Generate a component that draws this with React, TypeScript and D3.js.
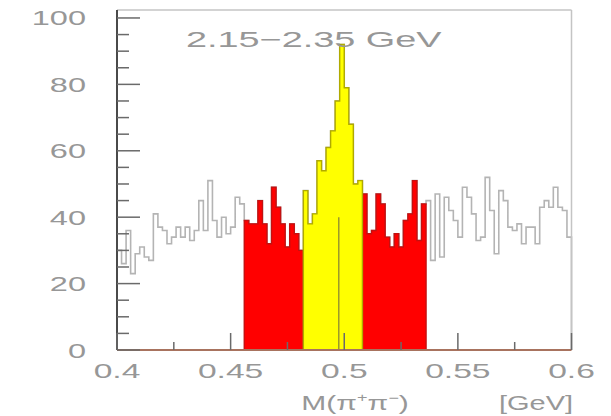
import React from 'react';
import * as d3 from 'd3';

// ---- data ----
const binLow = 0.4;
const binWidth = 0.002;
const counts = [
  30, 26, 36, 23, 29, 31, 28, 27, 41, 37,
  36, 32, 34, 37, 34, 37, 33, 36, 45, 36,
  51, 39, 34, 40, 35, 37, 46, 44, 39, 38,
  38, 45, 38, 32, 49, 43, 38, 31, 38, 35,
  30, 48, 38, 41, 57, 54, 61, 66, 75, 92,
  79, 68, 50, 51, 47, 35, 36, 47, 44, 34,
  31, 35, 31, 39, 41, 51, 33, 44, 45, 27,
  47, 28, 46, 42, 39, 34, 49, 46, 41, 33,
  34, 52, 42, 29, 48, 45, 37, 36, 38, 32,
  37, 37, 32, 43, 45, 43, 49, 43, 42, 34,
];
const leftBand = [0.456, 0.482];
const signalBand = [0.482, 0.508];
const rightBand = [0.508, 0.536];
const kMass = 0.4976;
const kLineTop = 40;
const yMajorTicks = [0, 20, 40, 60, 80, 100];
const yMinorTicks = [5, 10, 15, 25, 30, 35, 45, 50, 55, 65, 70, 75, 85, 90, 95];
const xMajorTicks = [0.4, 0.45, 0.5, 0.55, 0.6];
const xMajorLabels = ['0.4', '0.45', '0.5', '0.55', '0.6'];
const xMinorTicks = [0.425, 0.475, 0.525, 0.575];
const titleText = '2.15\u22122.35 GeV';

const TEXT = '#979797';
const FONT = 'Liberation Sans, Arial, sans-serif';

export default function App() {
  const W = 611, H = 416;
  const x = d3.scaleLinear().domain([0.4, 0.6]).range([117, 571.5]);
  const y = d3.scaleLinear().domain([0, 102.4]).range([350, 10]);

  const bins = counts.map((c, i) => ({ x0: binLow + i * binWidth, c }));
  const eps = 1e-9;

  const regionPts = (lo: number, hi: number): [number, number][] => {
    const sel = bins.filter(b => b.x0 >= lo - eps && b.x0 < hi - eps);
    const pts: [number, number][] = sel.map(b => [b.x0, b.c]);
    pts.push([hi, sel[sel.length - 1].c]);
    return pts;
  };

  const area = d3.area<[number, number]>()
    .x(d => x(d[0]))
    .y0(y(0))
    .y1(d => y(d[1]))
    .curve(d3.curveStepAfter);

  const line = d3.line<[number, number]>()
    .x(d => x(d[0]))
    .y(d => y(d[1]))
    .curve(d3.curveStepAfter);

  const allPts: [number, number][] = [[binLow, 0], ...bins.map(b => [b.x0, b.c] as [number, number])];
  const last = bins[bins.length - 1];
  allPts.push([last.x0 + binWidth, last.c]);
  allPts.push([last.x0 + binWidth, 0]);

  const regionPath = (lo: number, hi: number) => area(regionPts(lo, hi)) as string;

  const stretched = (
    px: number, py: number, txt: React.ReactNode, size: number, sx: number,
    anchor: 'start' | 'middle' | 'end', key?: string
  ) => (
    <text key={key} transform={`translate(${px},${py}) scale(${sx},1)`} textAnchor={anchor}
      fontFamily={FONT} fontSize={size} fill={TEXT}>{txt}</text>
  );

  return (
    <svg width={W} height={H} style={{ position: 'absolute', left: 0, top: 0, background: '#fff' }}>
      <rect x={0} y={0} width={W} height={H} fill="#fff" />
      {/* grey outline of full histogram */}
      <path d={line(allPts) as string} fill="none" stroke="#b4b4b4" strokeWidth={1.6} />
      {/* side bands */}
      <path d={regionPath(leftBand[0], leftBand[1])} fill="#ff0000" stroke="#c41010" strokeWidth={1.4} />
      <path d={regionPath(rightBand[0], rightBand[1])} fill="#ff0000" stroke="#c41010" strokeWidth={1.4} />
      {/* signal */}
      <path d={regionPath(signalBand[0], signalBand[1])} fill="#ffff00" stroke="#b0aa00" strokeWidth={1.4} />
      {/* K0 mass line */}
      <line x1={x(kMass)} x2={x(kMass)} y1={y(0)} y2={y(kLineTop)} stroke="#8c8a30" strokeWidth={1.3} />

      {/* frame */}
      <line x1={x(0.4)} x2={x(0.6)} y1={y(102.4)} y2={y(102.4)} stroke="#c4c4c4" strokeWidth={1.5} />
      <line x1={x(0.6)} x2={x(0.6)} y1={y(102.4)} y2={y(0)} stroke="#c4c4c4" strokeWidth={1.5} />
      <line x1={x(0.4)} x2={x(0.6)} y1={y(0)} y2={y(0)} stroke="#a8735e" strokeWidth={2} />
      <line x1={x(0.4)} x2={x(0.4)} y1={y(102.4)} y2={y(0)} stroke="#4a4a4a" strokeWidth={2} />

      {/* y ticks */}
      {yMajorTicks.map(v => (
        <line key={'ym' + v} x1={x(0.4)} x2={x(0.4) + 23} y1={y(v)} y2={y(v)} stroke="#6a6a6a" strokeWidth={1.5} />
      ))}
      {yMinorTicks.map(v => (
        <line key={'yn' + v} x1={x(0.4)} x2={x(0.4) + 12} y1={y(v)} y2={y(v)} stroke="#6a6a6a" strokeWidth={1.5} />
      ))}
      {/* x ticks */}
      {xMajorTicks.map(v => (
        <line key={'xm' + v} x1={x(v)} x2={x(v)} y1={y(0)} y2={y(0) - 17} stroke="#6a6a6a" strokeWidth={1.5} />
      ))}
      {xMinorTicks.map(v => (
        <line key={'xn' + v} x1={x(v)} x2={x(v)} y1={y(0)} y2={y(0) - 8} stroke="#6a6a6a" strokeWidth={1.5} />
      ))}

      {/* y labels */}
      {yMajorTicks.map(v => stretched(86, y(v) + 7.5, String(v), 21, 1.55, 'end', 'yl' + v))}
      {/* x labels */}
      {xMajorTicks.map((v, i) => stretched(x(v), 378, xMajorLabels[i], 21, 1.6, 'middle', 'xl' + v))}

      {/* title */}
      {stretched(186, 47, titleText, 22, 1.72, 'start')}

      {/* axis title */}
      <text transform={`translate(355,410) scale(1.5,1)`} textAnchor="middle" fontFamily={FONT} fontSize={20} fill={TEXT}>
        M(π<tspan fontSize={12} dy={-8}>+</tspan><tspan dy={8}>π</tspan><tspan fontSize={12} dy={-8}>−</tspan><tspan dy={8}>)</tspan>
      </text>
      {stretched(536, 410, '[GeV]', 20, 1.45, 'middle')}
    </svg>
  );
}
